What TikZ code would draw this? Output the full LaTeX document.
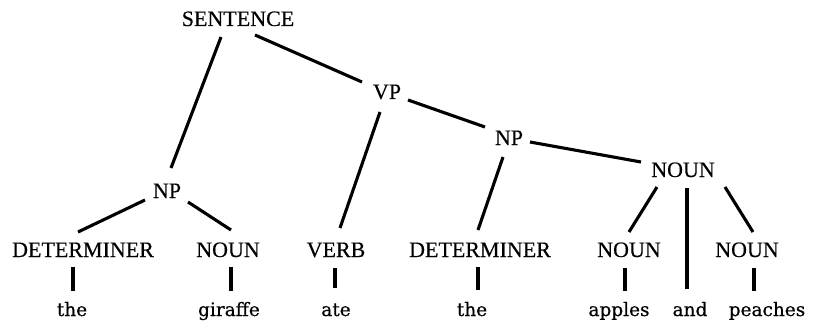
\documentclass[tikz,border=0pt]{standalone}
\usepackage{fontspec}
\setmainfont{Liberation Serif}
\newfontfamily\labfont{Liberation Serif}[FakeBold=0.3]
\newfontfamily\wordfont{DejaVu Serif}[FakeBold=0.5]
\begin{document}
\begin{tikzpicture}[x=1pt,y=-1pt,
  lab/.style={anchor=base,inner sep=0pt,font=\labfont\fontsize{22}{22}\selectfont},
  word/.style={anchor=base,inner sep=0pt,font=\wordfont\fontsize{18.5}{18.5}\selectfont},
  edge/.style={line width=3.1pt},
  bar/.style={line width=4pt}]
\useasboundingbox (0,0) rectangle (817,321);
% labels
\node[lab] (S) at (238,26) {SENTENCE};
\node[lab] (VP) at (387,99) {VP};
\node[lab] (NPb) at (509,145) {NP};
\node[lab] (Nc) at (683,177) {NOUN};
\node[lab] (NPa) at (167,198) {NP};
\node[lab] (Da) at (83,257) {DETERMINER};
\node[lab] (Na) at (228,257) {NOUN};
\node[lab] (V) at (336,257) {VERB};
\node[lab] (Db) at (480,257) {DETERMINER};
\node[lab] (Nd) at (629,257) {NOUN};
\node[lab] (Ne) at (747,257) {NOUN};
% words
\node[word] (w1) at (72,316) {the};
\node[word] (w2) at (229,316) {giraffe};
\node[word] (w3) at (336,316) {ate};
\node[word] (w4) at (472,316) {the};
\node[word] (w5) at (619,316) {apples};
\node[word] (w6) at (690,316) {and};
\node[word] (w7) at (767,316) {peaches};
% edges
\draw[edge] ([shift={(-17,11)}]S.base) -- ([shift={(4,-30)}]NPa.base);
\draw[edge] ([shift={(17,9)}]S.base) -- ([shift={(-25,-17)}]VP.base);
\draw[edge] ([shift={(-7,13)}]VP.base) -- ([shift={(4,-29)}]V.base);
\draw[edge] ([shift={(21,1)}]VP.base) -- ([shift={(-24,-18)}]NPb.base);
\draw[edge] ([shift={(-6,12)}]NPb.base) -- ([shift={(-2,-27)}]Db.base);
\draw[edge] ([shift={(21,-3)}]NPb.base) -- ([shift={(-42,-15)}]Nc.base);
\draw[edge] ([shift={(-22,2)}]NPa.base) -- ([shift={(-5,-25)}]Da.base);
\draw[edge] ([shift={(21,4)}]NPa.base) -- ([shift={(3,-27)}]Na.base);
\draw[edge] ([shift={(-26,10)}]Nc.base) -- ([shift={(0,-25)}]Nd.base);
\draw[edge] ([shift={(4,11)}]Nc.base) -- ([shift={(-3,-27)}]w6.base);
\draw[edge] ([shift={(42,10)}]Nc.base) -- ([shift={(6,-25)}]Ne.base);
% bars
\draw[bar] ([shift={(-10,10)}]Da.base) -- ([shift={(1,-25)}]w1.base);
\draw[bar] ([shift={(3,10)}]Na.base) -- ([shift={(2,-25)}]w2.base);
\draw[bar] ([shift={(-1,11)}]V.base) -- ([shift={(-1,-28)}]w3.base);
\draw[bar] ([shift={(-2,10)}]Db.base) -- ([shift={(6,-26)}]w4.base);
\draw[bar] ([shift={(-4,11)}]Nd.base) -- ([shift={(6,-25)}]w5.base);
\draw[bar] ([shift={(7,11)}]Ne.base) -- ([shift={(-13,-25)}]w7.base);
\end{tikzpicture}
\end{document}
